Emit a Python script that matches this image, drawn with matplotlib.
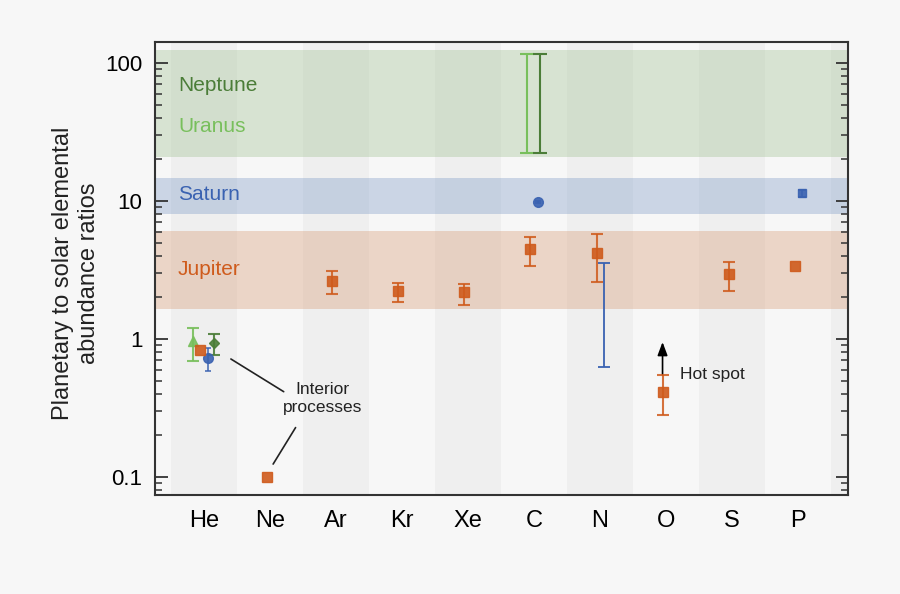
import numpy as np
import matplotlib
matplotlib.use("Agg")
import matplotlib.pyplot as plt
from matplotlib.ticker import FixedLocator, FixedFormatter, LogLocator, NullFormatter

plt.rcParams["font.family"] = ["Liberation Sans", "DejaVu Sans"]

# planetary / solar abundance ratios
elements = ["He", "Ne", "Ar", "Kr", "Xe", "C", "N", "O", "S", "P"]

# Jupiter (squares)
jup_idx = [0, 1, 2, 3, 4, 5, 6, 7, 8, 9]
jup_off = [-0.06, -0.05, -0.06, -0.06, -0.06, -0.06, -0.05, -0.05, -0.05, -0.05]
jup_val = [0.83, 0.10, 2.63, 2.23, 2.19, 4.49, 4.17, 0.41, 2.94, 3.40]
jup_lo = [0.83, 0.10, 2.12, 1.85, 1.76, 3.38, 2.58, 0.28, 2.24, 3.40]
jup_hi = [0.83, 0.10, 3.11, 2.55, 2.50, 5.49, 5.74, 0.55, 3.60, 3.40]

# Saturn (circles for He, C; square for P)
sat_idx = [0, 5]
sat_off = [0.06, 0.06]
sat_val = [0.725, 9.8]
sat_lo = [0.589, 9.6]
sat_hi = [0.856, 10.0]
sat_p_val, sat_p_lo, sat_p_hi = 11.4, 10.7, 12.1
sat_n_lo, sat_n_hi = 0.63, 3.57

# Uranus / Neptune helium
ura_he, ura_he_lo, ura_he_hi = 0.97, 0.69, 1.21
nep_he, nep_he_lo, nep_he_hi = 0.93, 0.76, 1.09
# Uranus / Neptune carbon range
ice_c_lo, ice_c_hi = 22.3, 116

# bands
nep_ura_band = (20.8, 124)
sat_band = (8.05, 14.7)
jup_band = (1.65, 6.06)

c_jup = "#cf5b1c"
c_sat = "#3a62b1"
c_ura = "#78bf5c"
c_nep = "#4b7d38"

fig = plt.figure(figsize=(9, 5.94), dpi=100, facecolor="#f7f7f7")
ax = fig.add_axes([155 / 900, 1 - 495 / 594, 693 / 900, 453 / 594])
ax.set_facecolor("#f7f7f7")
ax.set_yscale("log")
ax.set_xlim(-0.74, 9.76)
ax.set_ylim(0.074, 142)

for i in range(-1, 11):
    if i % 2 == 0:
        ax.axvspan(i - 0.5, i + 0.5, color="#efefef", lw=0, zorder=0)

ax.axhspan(*nep_ura_band, color="#90b87f", alpha=0.3, lw=0, zorder=1)
ax.axhspan(*sat_band, color="#6789be", alpha=0.3, lw=0, zorder=1)
ax.axhspan(*jup_band, color="#d2895a", alpha=0.3, lw=0, zorder=1)

lab_kw = dict(fontsize=15, ha="left", va="center", zorder=3)
ax.text(-0.39, 69, "Neptune", color=c_nep, **lab_kw)
ax.text(-0.39, 34.4, "Uranus", color=c_ura, **lab_kw)
ax.text(-0.39, 11.1, "Saturn", color=c_sat, **lab_kw)
ax.text(-0.39, 3.21, "Jupiter", color=c_jup, **lab_kw)

eb = dict(capsize=4, elinewidth=1.5, capthick=1.5, zorder=4)

# Jupiter
jx = np.array(jup_idx) + np.array(jup_off)
jv = np.array(jup_val)
jerr = np.array([jv - np.array(jup_lo), np.array(jup_hi) - jv])
has_err = jerr.sum(axis=0) > 0
ax.errorbar(jx[has_err], jv[has_err], yerr=jerr[:, has_err], fmt="none",
            ecolor=c_jup, alpha=0.85, **eb)
ax.plot(jx, jv, "s", color=c_jup, ms=7, mec=c_jup, alpha=0.9, zorder=5)

# Saturn
sx = np.array(sat_idx) + np.array(sat_off)
sv = np.array(sat_val)
serr = np.array([sv - np.array(sat_lo), np.array(sat_hi) - sv])
ax.errorbar(sx, sv, yerr=serr, fmt="o", color=c_sat, ms=7, alpha=0.9,
            capsize=2, elinewidth=1.2, capthick=1.2, zorder=4)
ax.errorbar([9 + 0.06], [sat_p_val], yerr=[[sat_p_val - sat_p_lo], [sat_p_hi - sat_p_val]],
            fmt="s", color=c_sat, ms=6, alpha=0.9,
            capsize=3, elinewidth=1.2, capthick=1.2, zorder=4)
n_mid = np.sqrt(sat_n_lo * sat_n_hi)
ax.errorbar([6 + 0.06], [n_mid], yerr=[[n_mid - sat_n_lo], [sat_n_hi - n_mid]],
            fmt="none", ecolor=c_sat, capsize=4, elinewidth=1.3, capthick=1.3, zorder=4)

# Uranus & Neptune
ax.errorbar([-0.17], [ura_he], yerr=[[ura_he - ura_he_lo], [ura_he_hi - ura_he]],
            fmt="^", color=c_ura, ms=7.5, alpha=0.9, **eb)
ax.errorbar([0.15], [nep_he], yerr=[[nep_he - nep_he_lo], [nep_he_hi - nep_he]],
            fmt="D", color=c_nep, ms=5.5, alpha=0.9, **eb)
mid_c = np.sqrt(ice_c_lo * ice_c_hi)
ax.errorbar([5 - 0.1], [mid_c], yerr=[[mid_c - ice_c_lo], [ice_c_hi - mid_c]],
            fmt="none", ecolor=c_ura, capsize=5, elinewidth=1.5, capthick=1.5, zorder=4)
ax.errorbar([5 + 0.1], [mid_c], yerr=[[mid_c - ice_c_lo], [ice_c_hi - mid_c]],
            fmt="none", ecolor=c_nep, capsize=5, elinewidth=1.5, capthick=1.5, zorder=4)

# annotations
line_kw = dict(arrowstyle="-", color="#222222", lw=1.2, shrinkA=0, shrinkB=0)
ax.annotate("", xy=(0.41, 0.716), xytext=(1.21, 0.415), arrowprops=line_kw)
ax.annotate("", xy=(1.05, 0.124), xytext=(1.39, 0.228), arrowprops=line_kw)
ax.text(1.8, 0.37, "Interior\nprocesses", fontsize=12.5, ha="center", va="center",
        color="#222222", linespacing=1.25)
ax.annotate("", xy=(7 - 0.05, 0.95), xytext=(7 - 0.05, 0.55),
            arrowprops=dict(arrowstyle="-|>,head_width=0.3,head_length=0.8",
                            color="black", lw=1.2, shrinkA=0, shrinkB=0), zorder=3)
ax.text(7.21, 0.557, "Hot spot", fontsize=12.5, ha="left", va="center", color="#222222")

# axes cosmetics
ax.set_xticks(range(len(elements)))
ax.set_xticklabels(elements, fontsize=17)
ax.tick_params(axis="x", length=0, pad=11)
ax.yaxis.set_major_locator(FixedLocator([0.1, 1, 10, 100]))
ax.yaxis.set_major_formatter(FixedFormatter(["0.1", "1", "10", "100"]))
ax.yaxis.set_minor_locator(LogLocator(base=10, subs=np.arange(2, 10)))
ax.yaxis.set_minor_formatter(NullFormatter())
ax.tick_params(axis="y", which="both", direction="in", left=True, right=True,
               color="#333333", labelsize=16, pad=9)
ax.tick_params(axis="y", which="major", length=9, width=1.3)
ax.tick_params(axis="y", which="minor", length=5, width=1.1)
for s in ax.spines.values():
    s.set_color("#333333")
    s.set_linewidth(1.5)

ax.set_ylabel("Planetary to solar elemental\nabundance ratios", fontsize=17,
              linespacing=1.2, color="#222222")
ax.yaxis.set_label_coords(-0.08, 0.49)

fig.savefig("out.png", dpi=100, facecolor=fig.get_facecolor())
